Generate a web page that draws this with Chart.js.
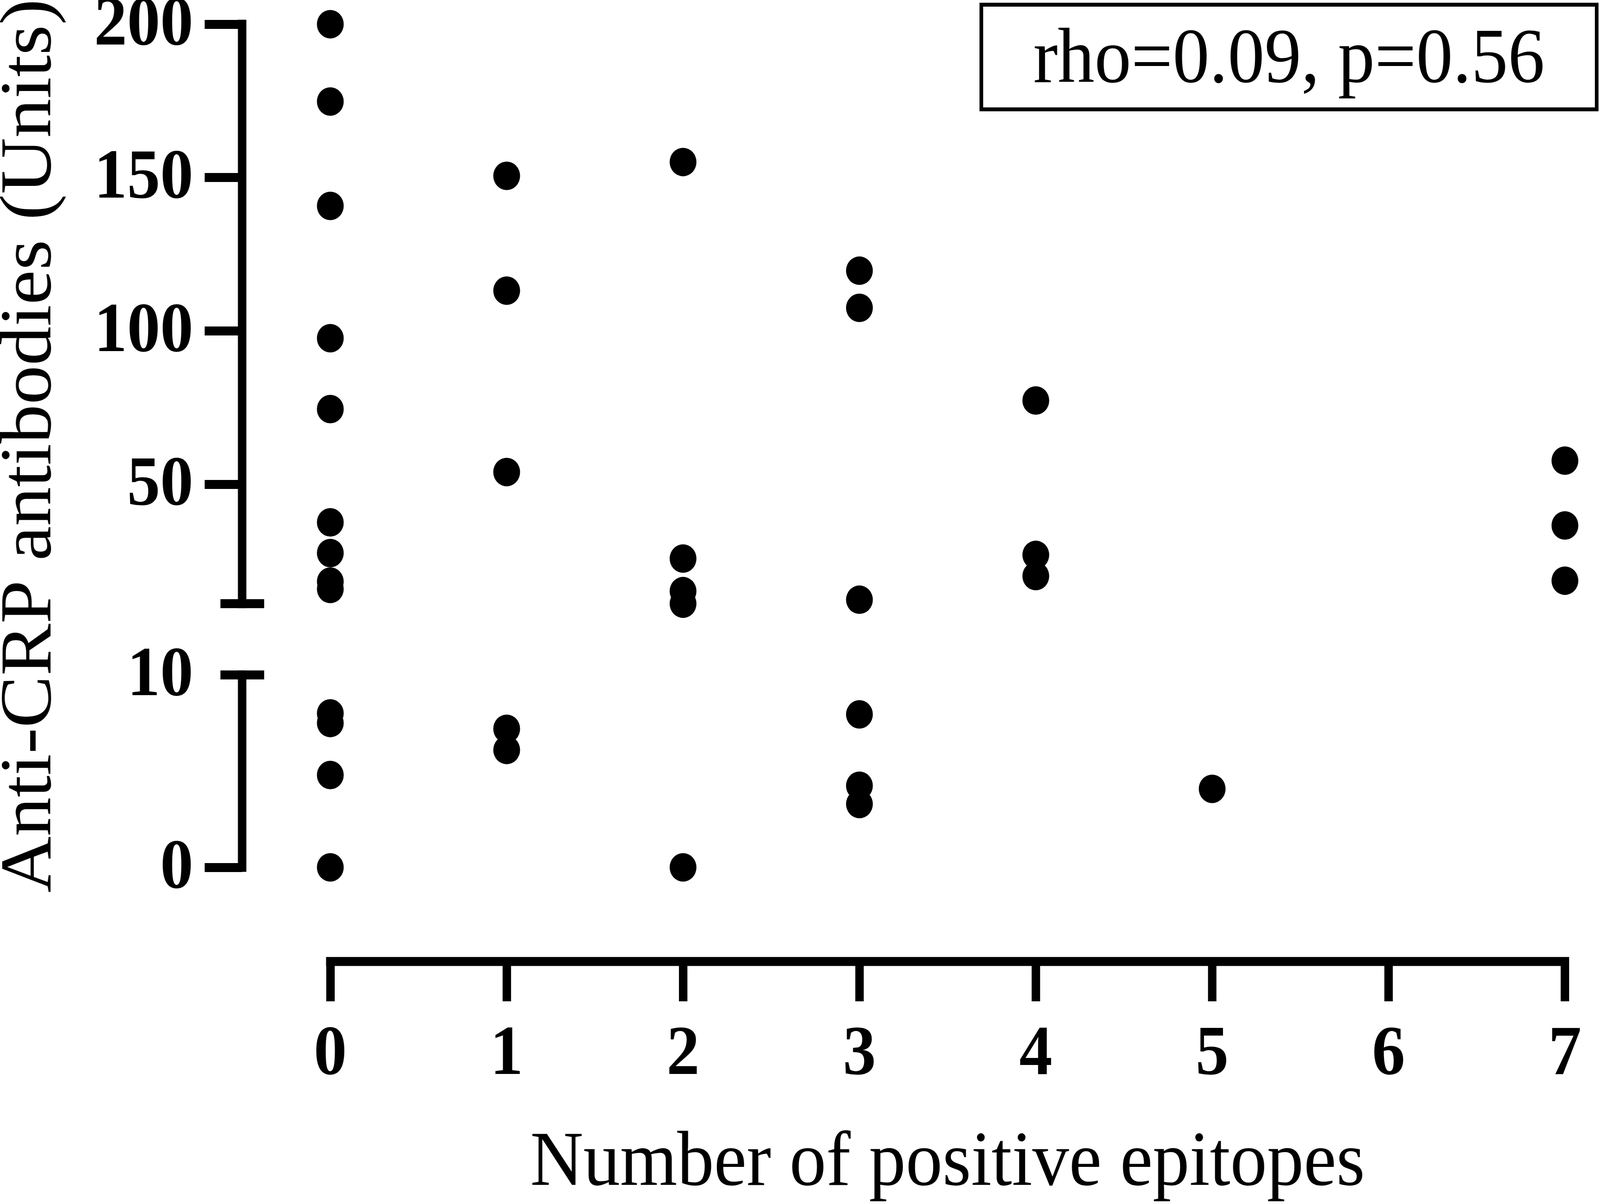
<!DOCTYPE html>
<html>
<head>
<meta charset="utf-8">
<script src="https://cdn.jsdelivr.net/npm/chart.js@4"></script>
<style>
  html, body { margin: 0; background: #fff; overflow: hidden; }
  /* drawn at 4355x3083, stretched to whatever the window really is */
  canvas { display: block; width: 100vw !important; height: 100vh !important; }
</style>
</head>
<body>
<canvas id="scatter" width="4355" height="3083"></canvas>
<script>
// values, split by axis segment
var upperX = [0, 0, 0, 0, 0, 0, 0, 0, 0, 1, 1, 1, 2, 2, 2, 2, 3, 3, 3, 4, 4, 4, 7, 7, 7];
var upperY = [200, 174.8, 140.8, 97.7, 74.6, 37.7, 27.7, 18.4, 16.0,
              150.6, 113.2, 54.1,
              155.1, 25.9, 15.3, 11.2,
              119.7, 107.6, 12.5,
              77.4, 27.1, 20.2,
              57.8, 36.7, 18.7];
var lowerX = [0, 0, 0, 0, 1, 1, 2, 3, 3, 3, 5];
var lowerY = [8.0, 7.5, 4.8, 0, 7.2, 6.1, 0, 7.95, 4.24, 3.29, 4.08];

var xTicks = [0, 1, 2, 3, 4, 5, 6, 7];
var upperTicks = [50, 100, 150, 200];
var lowerTicks = [0, 10];
var upperRange = [11.2, 200];
var lowerRange = [0, 10];

var statText = 'rho=0.09, p=0.56';
var xTitle = 'Number of positive epitopes';
var yTitle = 'Anti-CRP antibodies (Units)';

var serif = "'Liberation Serif', 'Times New Roman', serif";

function toPoints(xs, ys) {
  return xs.map(function(x, i) { return {x: x, y: ys[i]}; });
}
function fixedTicks(list) {
  return function(scale) {
    scale.ticks = list.map(function(v) { return {value: v}; });
  };
}
// fixed box size, and no extra room asked for overhanging labels
function fitTo(w, h) {
  return function(s) {
    if (w) s.width = w;
    if (h) s.height = h;
    s.paddingTop = s.paddingBottom = s.paddingLeft = s.paddingRight = 0;
  };
}

var axisDecor = {
  id: 'axisDecor',
  afterDraw: function(chart) {
    var c = chart.ctx, a = chart.chartArea;
    var sx = chart.scales.x, hi = chart.scales.yHigh, lo = chart.scales.yLow;
    var ax = a.left;
    c.save();
    c.strokeStyle = '#000';
    c.lineWidth = 23;
    c.lineCap = 'square';
    c.beginPath();
    c.moveTo(ax, hi.getPixelForValue(upperRange[1]));
    c.lineTo(ax, hi.getPixelForValue(upperRange[0]));
    c.moveTo(ax, lo.getPixelForValue(lowerRange[1]));
    c.lineTo(ax, lo.getPixelForValue(lowerRange[0]));
    c.moveTo(sx.getPixelForValue(xTicks[0]), a.bottom);
    c.lineTo(sx.getPixelForValue(xTicks[xTicks.length - 1]), a.bottom);
    c.stroke();
    // break caps
    c.lineCap = 'butt';
    c.beginPath();
    c.moveTo(ax - 59, hi.getPixelForValue(upperRange[0]));
    c.lineTo(ax + 60, hi.getPixelForValue(upperRange[0]));
    c.moveTo(ax - 59, lo.getPixelForValue(lowerRange[1]));
    c.lineTo(ax + 60, lo.getPixelForValue(lowerRange[1]));
    c.stroke();

    // titles
    c.fillStyle = '#000';
    c.font = '200px ' + serif;
    c.textAlign = 'center';
    c.textBaseline = 'alphabetic';
    var midX = (sx.getPixelForValue(xTicks[0]) + sx.getPixelForValue(xTicks[xTicks.length - 1])) / 2;
    c.fillText(xTitle, midX, 3034);
    var midY = (hi.getPixelForValue(upperRange[1]) + lo.getPixelForValue(lowerRange[0])) / 2;
    c.save();
    c.translate(137, midY);
    c.rotate(-Math.PI / 2);
    c.fillText(yTitle, 0, 0);
    c.restore();

    // stats box
    c.lineWidth = 10;
    c.strokeRect(2671, 12, 1675, 268);
    c.fillText(statText, 2671 + 1675 / 2, 210);
    c.restore();
  }
};

var tickFont = { family: serif, size: 180, weight: 'bold' };

var ctx = document.getElementById('scatter').getContext('2d');
var config = {
  type: 'scatter',
  data: {
    datasets: [{
      data: toPoints(upperX, upperY),
      yAxisID: 'yHigh',
      pointRadius: 36.5,
      pointHoverRadius: 36.5,
      pointBackgroundColor: '#000',
      pointBorderWidth: 0,
      clip: false
    }, {
      data: toPoints(lowerX, lowerY),
      yAxisID: 'yLow',
      pointRadius: 36.5,
      pointHoverRadius: 36.5,
      pointBackgroundColor: '#000',
      pointBorderWidth: 0,
      clip: false
    }]
  },
  options: {
    responsive: false,
    devicePixelRatio: 1,
    animation: false,
    layout: { autoPadding: false, padding: { top: 62, left: 0, right: 0, bottom: 0 } },
    plugins: { legend: { display: false }, tooltip: { enabled: false } },
    scales: {
      x: {
        type: 'linear',
        min: -0.5,
        max: 7.199,
        afterBuildTicks: fixedTicks(xTicks),
        afterFit: fitTo(0, 621),
        border: { display: false },
        grid: { drawOnChartArea: false, tickLength: 102, lineWidth: 23, color: '#000' },
        ticks: { autoSkip: false, maxRotation: 0, padding: 31, color: '#000', font: tickFont }
      },
      yHigh: {
        type: 'linear',
        position: 'left',
        stack: 'y',
        stackWeight: 1575,
        weight: 2,
        min: -0.4,
        max: 200,
        afterBuildTicks: fixedTicks(upperTicks),
        afterFit: fitTo(659, 0),
        border: { display: false },
        grid: { drawOnChartArea: false, tickLength: 102, lineWidth: 23, color: '#000' },
        ticks: { autoSkip: false, padding: 31, labelOffset: 5, color: '#000', font: tickFont }
      },
      yLow: {
        type: 'linear',
        position: 'left',
        stack: 'y',
        stackWeight: 825,
        weight: 1,
        min: -4.89,
        max: 11.85,
        afterBuildTicks: fixedTicks(lowerTicks),
        afterFit: fitTo(659, 0),
        border: { display: false },
        grid: {
          drawOnChartArea: false, tickLength: 102, lineWidth: 23,
          color: function(c) { return c.tick && c.tick.value === lowerRange[1] ? 'rgba(0,0,0,0)' : '#000'; }
        },
        ticks: { autoSkip: false, padding: 31, labelOffset: 5, color: '#000', font: tickFont }
      }
    }
  },
  plugins: [axisDecor]
};

var chart = new Chart(ctx, config);
</script>
</body>
</html>
